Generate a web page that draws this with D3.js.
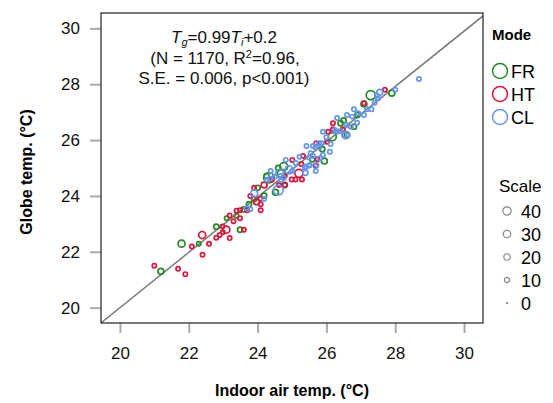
<!DOCTYPE html>
<html>
<head>
<meta charset="utf-8">
<script src="https://cdn.jsdelivr.net/npm/d3@7"></script>
<style>
  body { margin: 0; background: #fff; }
  svg text { font-family: "Liberation Sans", Arial, sans-serif; }
</style>
</head>
<body>
<svg id="chart" width="553" height="403"></svg>
<script>
// [indoor air temp, globe temp, scale]
const frPoints = [
  [21.19, 21.30, 15], [21.79, 22.29, 25], [22.29, 22.29, 5], [22.80, 22.90, 10],
  [23.10, 23.20, 5], [23.49, 22.79, 10], [23.39, 23.29, 5], [23.75, 23.70, 10],
  [23.60, 23.52, 10], [23.90, 23.89, 10], [24.00, 24.29, 10], [24.19, 24.01, 10],
  [24.33, 24.65, 70], [24.52, 24.13, 15], [24.60, 25.00, 10], [24.79, 24.39, 10],
  [24.69, 24.81, 35], [24.76, 25.05, 35], [24.26, 24.71, 10], [25.59, 25.31, 10],
  [25.94, 25.25, 15], [25.88, 25.67, 10], [26.17, 26.12, 35], [26.60, 26.18, 10],
  [26.41, 26.60, 10], [26.50, 26.70, 10], [26.80, 26.48, 10], [26.90, 26.90, 10],
  [27.09, 27.29, 15], [27.29, 27.61, 50], [27.90, 27.68, 15]
];

const htPoints = [
  [21.00, 21.50, 5], [21.69, 21.39, 5], [21.90, 21.20, 5], [22.09, 22.19, 5],
  [22.39, 22.60, 25], [22.40, 21.89, 5], [22.59, 22.29, 5], [22.80, 22.50, 5],
  [22.90, 22.60, 5], [22.99, 22.70, 5], [23.09, 22.79, 25], [23.19, 22.49, 5],
  [22.98, 22.91, 5], [23.19, 23.30, 5], [23.30, 23.09, 5], [23.49, 23.20, 5],
  [23.60, 22.79, 5], [23.49, 23.49, 5], [23.70, 23.49, 5], [24.09, 23.70, 5],
  [24.09, 23.49, 5], [23.97, 23.79, 15], [23.79, 24.00, 5], [23.90, 24.29, 5],
  [24.19, 24.39, 15], [24.42, 24.59, 5], [24.62, 24.39, 5], [24.79, 24.39, 5],
  [24.79, 24.72, 5], [24.99, 24.59, 5], [25.10, 24.59, 5], [25.29, 24.59, 5],
  [25.20, 24.81, 35], [25.69, 25.08, 5], [25.01, 25.29, 5], [25.32, 25.43, 5],
  [25.71, 25.89, 5], [26.05, 26.30, 5], [25.74, 25.31, 5], [25.27, 25.14, 5],
  [26.19, 26.60, 5], [26.19, 26.39, 5], [26.48, 26.39, 5], [26.02, 25.94, 5],
  [27.09, 27.32, 5], [27.70, 27.80, 5], [23.39, 23.47, 5], [24.08, 23.90, 5]
];

const clPoints = [
  [23.79, 23.53, 5], [23.90, 24.09, 25], [24.19, 23.89, 5], [24.50, 24.69, 5],
  [24.60, 24.21, 60], [24.69, 24.57, 5], [24.38, 24.89, 5], [24.91, 24.93, 35],
  [25.37, 24.99, 5], [25.49, 25.08, 5], [25.69, 24.89, 5], [24.27, 24.58, 5],
  [24.36, 24.62, 5], [24.66, 24.71, 5], [24.64, 24.81, 35], [25.42, 25.79, 5],
  [25.54, 25.53, 5], [25.79, 25.89, 5], [25.86, 25.89, 5], [26.00, 26.10, 5],
  [25.90, 26.30, 5], [26.29, 26.30, 5], [26.53, 26.18, 5], [25.61, 25.79, 5],
  [25.79, 25.74, 5], [25.90, 25.47, 5], [26.10, 25.58, 5], [25.71, 25.11, 5],
  [25.52, 25.11, 5], [25.40, 25.05, 5], [25.39, 24.83, 10], [25.22, 25.40, 5],
  [25.49, 25.38, 5], [25.11, 25.18, 5], [28.69, 28.19, 5], [28.00, 27.80, 5],
  [27.55, 27.71, 15], [27.47, 27.59, 5], [27.50, 27.50, 5], [27.40, 27.34, 5],
  [27.18, 27.10, 5], [27.31, 27.10, 5], [26.80, 27.10, 5], [26.92, 26.96, 5],
  [27.09, 26.90, 5], [26.60, 26.90, 5], [26.75, 26.84, 5], [26.31, 26.79, 5],
  [26.58, 26.54, 5], [26.71, 26.48, 5], [26.89, 26.62, 5], [26.39, 26.32, 5],
  [26.56, 26.18, 30], [26.12, 25.86, 5], [25.68, 25.74, 5], [24.82, 25.29, 5],
  [24.76, 24.64, 5], [25.01, 24.89, 5], [23.68, 23.56, 5], [26.24, 26.36, 5],
  [25.61, 25.43, 5], [25.81, 25.35, 5]
];

const modeNames = ['FR', 'HT', 'CL'];
const modeColors = ['#228B22', '#DC143C', '#6495ED'];
const scaleBreaks = [40, 30, 20, 10, 0];
const axisTicks = [20, 22, 24, 26, 28, 30];
const fitSlope = 0.99;
const fitIntercept = 0.2;

const svg = d3.select('#chart');
const panel = { left: 101, right: 483, top: 13, bottom: 323 };

const x = d3.scaleLinear().domain([19.45, 30.55]).range([panel.left, panel.right]);
const y = d3.scaleLinear().domain([19.45, 30.55]).range([panel.bottom, panel.top]);
const r = d3.scaleSqrt().domain([0, 40]).range([1, 4.2]);
const color = d3.scaleOrdinal().domain(modeNames).range(modeColors);

// axes
const xAxis = svg.append('g')
  .attr('transform', `translate(0,${panel.bottom})`)
  .call(d3.axisBottom(x).tickValues(axisTicks).tickSize(10).tickPadding(14));
const yAxis = svg.append('g')
  .attr('transform', `translate(${panel.left},0)`)
  .call(d3.axisLeft(y).tickValues(axisTicks).tickSize(11).tickPadding(10));

[xAxis, yAxis].forEach(g => {
  g.select('.domain').remove();
  g.selectAll('.tick line').attr('stroke', '#aaaaaa').attr('stroke-width', 2);
  g.selectAll('.tick text')
    .attr('fill', '#111')
    .style('font-size', '17px')
    .style('font-family', '"Liberation Sans", Arial, sans-serif');
});

// clip for panel
svg.append('clipPath').attr('id', 'clip')
  .append('rect')
  .attr('x', panel.left).attr('y', panel.top)
  .attr('width', panel.right - panel.left).attr('height', panel.bottom - panel.top);

const plot = svg.append('g').attr('clip-path', 'url(#clip)');

// regression line
const xd = x.domain();
plot.append('line')
  .attr('x1', x(xd[0])).attr('y1', y(fitSlope * xd[0] + fitIntercept))
  .attr('x2', x(xd[1])).attr('y2', y(fitSlope * xd[1] + fitIntercept))
  .attr('stroke', '#7a7a7a')
  .attr('stroke-width', 1.5);

// points
const allPoints = [
  ...frPoints.map(d => ({ mode: 'FR', ti: d[0], tg: d[1], s: d[2] })),
  ...htPoints.map(d => ({ mode: 'HT', ti: d[0], tg: d[1], s: d[2] })),
  ...clPoints.map(d => ({ mode: 'CL', ti: d[0], tg: d[1], s: d[2] }))
];

plot.selectAll('circle.pt')
  .data(allPoints)
  .enter()
  .append('circle')
  .attr('class', 'pt')
  .attr('cx', d => x(d.ti))
  .attr('cy', d => y(d.tg))
  .attr('r', d => r(d.s))
  .attr('fill', 'none')
  .attr('stroke', d => color(d.mode))
  .attr('stroke-width', 1.7);

// panel border
svg.append('rect')
  .attr('x', panel.left).attr('y', panel.top)
  .attr('width', panel.right - panel.left).attr('height', panel.bottom - panel.top)
  .attr('fill', 'none')
  .attr('stroke', '#222')
  .attr('stroke-width', 1.2);

// annotation
const note = svg.append('g').attr('text-anchor', 'middle').style('font-size', '17px').attr('fill', '#111');
const l1 = note.append('text').attr('x', 224).attr('y', 43);
l1.append('tspan').style('font-style', 'italic').text('T');
l1.append('tspan').style('font-style', 'italic').style('font-size', '11px').attr('dy', 3).text('g');
l1.append('tspan').attr('dy', -3).text('=0.99');
l1.append('tspan').style('font-style', 'italic').text('T');
l1.append('tspan').style('font-style', 'italic').style('font-size', '11px').attr('dy', 3).text('i');
l1.append('tspan').attr('dy', -3).text('+0.2');

const l2 = note.append('text').attr('x', 225).attr('y', 64);
l2.append('tspan').text('(N = 1170, R');
l2.append('tspan').style('font-size', '11px').attr('dy', -6).text('2');
l2.append('tspan').attr('dy', 6).text('=0.96,');

note.append('text').attr('x', 224).attr('y', 84).text('S.E. = 0.006, p<0.001)');

// axis titles
svg.append('text')
  .attr('x', 292).attr('y', 396)
  .attr('text-anchor', 'middle')
  .style('font-size', '16px').style('font-weight', 'bold')
  .text('Indoor air temp. (°C)');

svg.append('text')
  .attr('transform', 'translate(32,172) rotate(-90)')
  .attr('text-anchor', 'middle')
  .style('font-size', '16px').style('font-weight', 'bold')
  .text('Globe temp. (°C)');

// legend: mode
svg.append('text')
  .attr('x', 492).attr('y', 40)
  .style('font-size', '15px').style('font-weight', 'bold')
  .text('Mode');

const modeLeg = svg.selectAll('g.mode')
  .data(modeNames)
  .enter()
  .append('g')
  .attr('class', 'mode')
  .attr('transform', (d, i) => `translate(500,${71 + i * 23})`);

modeLeg.append('circle')
  .attr('r', 7.5)
  .attr('fill', 'none')
  .attr('stroke', d => color(d))
  .attr('stroke-width', 1.5);

modeLeg.append('text')
  .attr('x', 11).attr('y', 6.5)
  .style('font-size', '18px')
  .text(d => d);

// legend: scale
svg.append('text')
  .attr('x', 499).attr('y', 192)
  .style('font-size', '17px')
  .text('Scale');

const scaleLeg = svg.selectAll('g.scale')
  .data(scaleBreaks)
  .enter()
  .append('g')
  .attr('class', 'scale')
  .attr('transform', (d, i) => `translate(507,${211 + i * 23})`);

scaleLeg.append('circle')
  .attr('r', d => d === 0 ? 1 : r(d))
  .attr('fill', d => d === 0 ? '#888' : 'none')
  .attr('stroke', '#888')
  .attr('stroke-width', d => d === 0 ? 0.5 : 1.2);

scaleLeg.append('text')
  .attr('x', 14).attr('y', 6.5)
  .style('font-size', '18px')
  .text(d => d);
</script>
</body>
</html>
